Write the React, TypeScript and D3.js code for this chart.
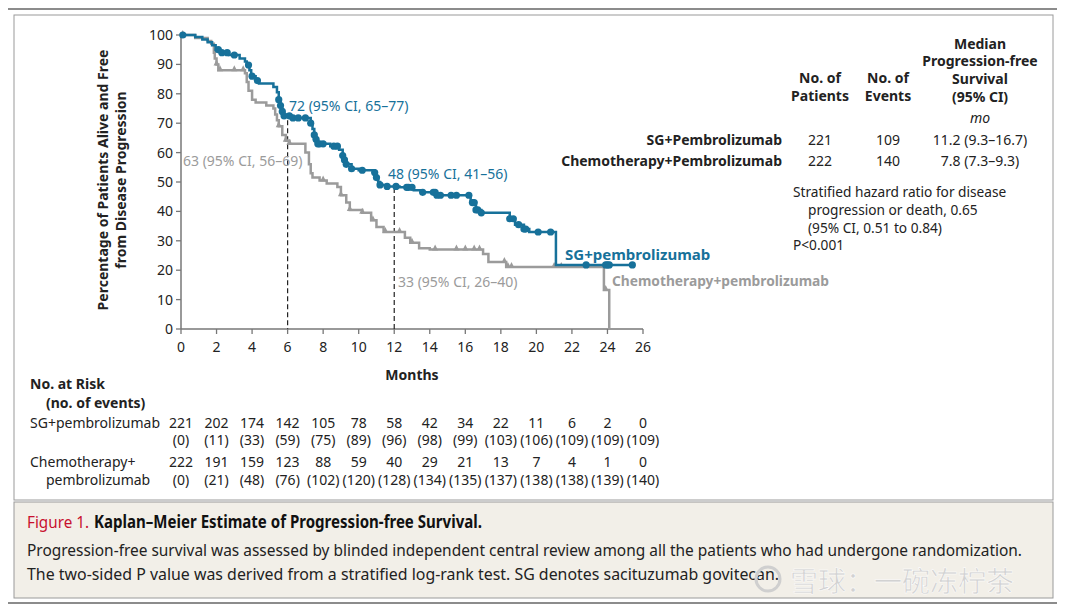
import * as d3 from "d3";

// step points: [month, % free] — value holds from that month on
const sgSteps: [number, number][] = [
  [0, 100], [0.8, 99.3], [1.2, 98.5], [1.5, 97.5], [1.75, 96.5], [1.95, 95], [2.2, 94],
  [2.7, 93.2], [3.3, 92], [3.6, 91], [3.7, 89.8], [3.85, 88], [3.95, 86], [4.2, 84.5],
  [4.4, 83.5], [5.2, 82.3], [5.4, 80.5], [5.5, 78], [5.6, 76], [5.7, 74], [5.8, 72.5],
  [6.2, 71.8], [7.3, 70], [7.4, 68], [7.5, 66], [7.6, 64.5], [7.7, 63], [8.4, 62.2],
  [8.9, 61], [9.1, 59], [9.2, 57.5], [9.3, 56], [9.6, 54.5], [10.0, 54], [10.9, 53.2],
  [11.0, 51.5], [11.1, 50], [11.2, 49], [11.6, 48.5], [12.3, 48.2], [13.1, 47.2],
  [13.5, 46.5], [14.4, 45.5], [16.3, 43], [16.6, 40.5], [16.9, 39.5], [18.5, 37.5],
  [18.8, 35.5], [19.3, 34], [19.6, 33], [21.1, 21.8],
];
const sgEnd = 25.4;
const sgCensor = [
  0.1, 2.1, 2.3, 2.6, 3.0, 3.8, 4.0, 4.3, 5.5, 5.6, 5.7, 5.8, 6.1, 6.3, 6.6, 7.0, 7.3,
  7.5, 7.6, 7.7, 7.8, 8.0, 8.6, 8.8, 9.1, 9.2, 9.3, 9.6, 10.2, 10.9, 11.0, 11.2, 11.6,
  12.1, 12.7, 12.8, 13.0, 13.6, 14.2, 14.3, 14.4, 14.6, 15.2, 15.5, 16.2, 16.4, 16.5,
  16.6, 16.7, 16.9, 18.5, 18.7, 19.0, 19.3, 19.4, 20.1, 20.8, 22.8, 23.9, 24.0, 24.1,
  25.4,
];

const chemoSteps: [number, number][] = [
  [0, 100], [0.8, 99], [1.5, 98], [1.7, 97], [1.85, 94], [1.9, 92], [2.0, 90], [2.1, 88],
  [3.6, 87], [3.7, 84], [3.8, 81], [4.0, 78], [4.2, 77], [4.8, 76], [5.2, 75], [5.3, 73],
  [5.4, 71], [5.5, 69], [5.7, 66], [5.9, 64], [6.1, 63], [7.0, 60], [7.2, 56], [7.3, 53],
  [7.4, 51.5], [7.8, 50.5], [8.2, 49.5], [8.8, 48.3], [9.0, 45.5], [9.3, 43], [9.5, 40.5],
  [10.2, 39.5], [10.7, 37], [11.0, 34.7], [11.4, 33], [12.6, 31], [12.9, 29.3],
  [13.4, 27.5], [14.0, 27], [17.0, 25.5], [17.3, 22.8], [18.3, 21.1], [23.8, 13.3],
  [24.1, 0],
];
const chemoEnd = 24.1;
const chemoCensor = [
  0.1, 2.0, 2.2, 3.0, 3.5, 5.5, 5.9, 6.1, 8.0, 9.0, 9.5, 10.2, 10.8, 11.5, 12.3, 13.0,
  14.3, 15.5, 16.0, 16.5, 16.8, 18.2, 18.4, 18.6, 21.0, 21.4, 23.9,
];

const monthTicks = [0, 2, 4, 6, 8, 10, 12, 14, 16, 18, 20, 22, 24, 26];
const pctTicks = [0, 10, 20, 30, 40, 50, 60, 70, 80, 90, 100];

const sgAtRisk = [221, 202, 174, 142, 105, 78, 58, 42, 34, 22, 11, 6, 2, 0];
const sgEvents = [0, 11, 33, 59, 75, 89, 96, 98, 99, 103, 106, 109, 109, 109];
const chemoAtRisk = [222, 191, 159, 123, 88, 59, 40, 29, 21, 13, 7, 4, 1, 0];
const chemoEvents = [0, 21, 48, 76, 102, 120, 128, 134, 135, 137, 138, 138, 139, 140];

const tableRows = [
  { name: "SG+Pembrolizumab", patients: "221", events: "109", median: "11.2 (9.3–16.7)" },
  { name: "Chemotherapy+Pembrolizumab", patients: "222", events: "140", median: "7.8 (7.3–9.3)" },
];

const BLUE = "#17719a";
const GRAY = "#9b9b9b";
const FONT = "'Noto Sans', 'Open Sans', sans-serif";
const SQUEEZE = 0.82;

const x = d3.scaleLinear().domain([0, 26]).range([181, 643]);
const y = d3.scaleLinear().domain([0, 100]).range([329, 35]);

const valueAt = (steps: [number, number][], t: number) => {
  let v = steps[0][1];
  for (const [st, sv] of steps) if (st <= t) v = sv;
  return v;
};

const line = d3
  .line<[number, number]>()
  .x((d) => x(d[0]))
  .y((d) => y(d[1]))
  .curve(d3.curveStepAfter);

// condensed caption text: squeeze horizontally, fit to a target width
function Narrow(props: { x: number; y: number; w: number; fill: string; bold?: boolean; children: string }) {
  return (
    <text
      transform={`translate(${props.x},${props.y}) scale(${SQUEEZE},1)`}
      fill={props.fill}
      fontWeight={props.bold ? 700 : 400}
      fontSize={17}
      textLength={props.w / SQUEEZE}
      lengthAdjust="spacingAndGlyphs"
    >
      {props.children}
    </text>
  );
}

export default function App() {
  const sgPath = line([...sgSteps, [sgEnd, valueAt(sgSteps, sgEnd)]]) ?? "";
  const chemoPath = line([...chemoSteps, [chemoEnd, 0]]) ?? "";

  return (
    <svg
      width={1065}
      height={613}
      style={{ position: "absolute", left: 0, top: 0, background: "#fff" }}
      fontFamily={FONT}
    >
      {/* frame */}
      <line x1={8} x2={1057} y1={9} y2={9} stroke="#666" strokeWidth={1.5} />
      <rect x={14} y={15} width={1039} height={485} fill="#fff" stroke="#9a9a9a" />
      <rect x={14} y={502} width={1039} height={96} fill="#f2efe8" stroke="#9a9a9a" />
      <line x1={8} x2={1057} y1={603} y2={603} stroke="#666" strokeWidth={1.5} />

      {/* y axis */}
      <line x1={x(0)} x2={x(0)} y1={y(100)} y2={y(0)} stroke="#777" strokeWidth={1.5} />
      {pctTicks.map((p) => (
        <g key={p}>
          <line x1={x(0) - 5} x2={x(0)} y1={y(p)} y2={y(p)} stroke="#777" strokeWidth={1.3} />
          <text x={x(0) - 8} y={y(p) + 5} textAnchor="end" fontSize={14} fill="#222">
            {p}
          </text>
        </g>
      ))}
      {/* x axis */}
      <line x1={x(0)} x2={x(26)} y1={y(0)} y2={y(0)} stroke="#777" strokeWidth={1.5} />
      {monthTicks.map((m) => (
        <g key={m}>
          <line x1={x(m)} x2={x(m)} y1={y(0)} y2={y(0) + 5} stroke="#777" strokeWidth={1.3} />
          <text x={x(m)} y={352} textAnchor="middle" fontSize={14} fill="#222">
            {m}
          </text>
        </g>
      ))}
      <text x={x(13)} y={380} textAnchor="middle" fontSize={14} fontWeight={700} fill="#222">
        Months
      </text>
      <text
        transform={`translate(108,${y(50) - 2}) rotate(-90)`}
        textAnchor="middle"
        fontSize={14}
        fontWeight={700}
        fill="#222"
      >
        Percentage of Patients Alive and Free
      </text>
      <text
        transform={`translate(126,${y(50) - 2}) rotate(-90)`}
        textAnchor="middle"
        fontSize={14}
        fontWeight={700}
        fill="#222"
      >
        from Disease Progression
      </text>

      {/* landmark lines */}
      <line x1={x(6)} x2={x(6)} y1={y(71)} y2={y(0)} stroke="#222" strokeDasharray="5,3" strokeWidth={1.2} />
      <line x1={x(12)} x2={x(12)} y1={y(48)} y2={y(0)} stroke="#222" strokeDasharray="5,3" strokeWidth={1.2} />

      {/* curves */}
      <path d={chemoPath} fill="none" stroke={GRAY} strokeWidth={2.5} />
      {chemoCensor.map((t, i) => {
        const cx = x(t);
        const cy = y(valueAt(chemoSteps, t));
        return (
          <path key={i} d={`M${cx - 3},${cy + 1}L${cx},${cy - 5}L${cx + 3},${cy + 1}Z`} fill={GRAY} />
        );
      })}
      <path d={sgPath} fill="none" stroke={BLUE} strokeWidth={2.5} />
      {sgCensor.map((t, i) => (
        <circle key={i} cx={x(t)} cy={y(valueAt(sgSteps, t))} r={3.6} fill={BLUE} />
      ))}

      {/* annotations */}
      <text x={289} y={111} fontSize={14} fill={BLUE}>72 (95% CI, 65–77)</text>
      <text x={183} y={166} fontSize={14} fill={GRAY}>63 (95% CI, 56–69)</text>
      <text x={388} y={179} fontSize={14} fill={BLUE}>48 (95% CI, 41–56)</text>
      <text x={398} y={287} fontSize={14} fill={GRAY}>33 (95% CI, 26–40)</text>
      <text x={565} y={260} fontSize={15} fontWeight={700} fill={BLUE}>SG+pembrolizumab</text>
      <text x={612} y={286} fontSize={14.5} fontWeight={700} fill={GRAY} textLength={217} lengthAdjust="spacingAndGlyphs">
        Chemotherapy+pembrolizumab
      </text>

      {/* summary table */}
      <g fontSize={14} fill="#222">
        <g fontWeight={700} textAnchor="middle">
          <text x={820} y={83}>No. of</text>
          <text x={820} y={101}>Patients</text>
          <text x={888} y={83}>No. of</text>
          <text x={888} y={101}>Events</text>
          <text x={980} y={49}>Median</text>
          <text x={980} y={66}>Progression-free</text>
          <text x={980} y={84}>Survival</text>
          <text x={980} y={102}>(95% CI)</text>
        </g>
        <text x={980} y={123} textAnchor="middle" fontStyle="italic">mo</text>
        {tableRows.map((r, i) => (
          <g key={r.name}>
            <text x={782} y={145 + i * 21} textAnchor="end" fontWeight={700}>{r.name}</text>
            <text x={820} y={145 + i * 21} textAnchor="middle">{r.patients}</text>
            <text x={888} y={145 + i * 21} textAnchor="middle">{r.events}</text>
            <text x={980} y={145 + i * 21} textAnchor="middle">{r.median}</text>
          </g>
        ))}
        <g fontSize={13.7}>
          <text x={793} y={197}>Stratified hazard ratio for disease</text>
          <text x={808} y={215}>progression or death, 0.65</text>
          <text x={808} y={233}>(95% CI, 0.51 to 0.84)</text>
          <text x={793} y={250}>P&lt;0.001</text>
        </g>
      </g>

      {/* number at risk */}
      <g fontSize={14} fill="#222">
        <text x={30} y={389} fontWeight={700}>No. at Risk</text>
        <text x={46} y={408} fontWeight={700}>(no. of events)</text>
        <text x={30} y={428}>SG+pembrolizumab</text>
        <text x={30} y={467}>Chemotherapy+</text>
        <text x={46} y={485}>pembrolizumab</text>
        {monthTicks.map((m, i) => (
          <g key={m} textAnchor="middle">
            <text x={x(m)} y={428}>{sgAtRisk[i]}</text>
            <text x={x(m)} y={445}>({sgEvents[i]})</text>
            <text x={x(m)} y={467}>{chemoAtRisk[i]}</text>
            <text x={x(m)} y={485}>({chemoEvents[i]})</text>
          </g>
        ))}
      </g>

      {/* caption */}
      <Narrow x={27} y={528} w={62} fill="#c8102e">Figure 1.</Narrow>
      <Narrow x={94} y={528} w={388} fill="#111" bold>
        Kaplan–Meier Estimate of Progression-free Survival.
      </Narrow>
      <Narrow x={27} y={556} w={995} fill="#222">
        Progression-free survival was assessed by blinded independent central review among all the patients who had undergone randomization.
      </Narrow>
      <Narrow x={27} y={580} w={752} fill="#222">
        The two-sided P value was derived from a stratified log-rank test. SG denotes sacituzumab govitecan.
      </Narrow>

      {/* watermark */}
      <g>
        <circle cx={768} cy={579} r={12} fill="none" stroke="#cfcfcf" strokeWidth={3} />
        <text
          x={790}
          y={592}
          fontSize={28}
          fontFamily="'Noto Sans CJK SC', sans-serif"
          fill="#d2d2d2"
          stroke="#fff"
          strokeWidth={0.5}
        >
          雪球：一碗冻柠茶
        </text>
      </g>
    </svg>
  );
}
